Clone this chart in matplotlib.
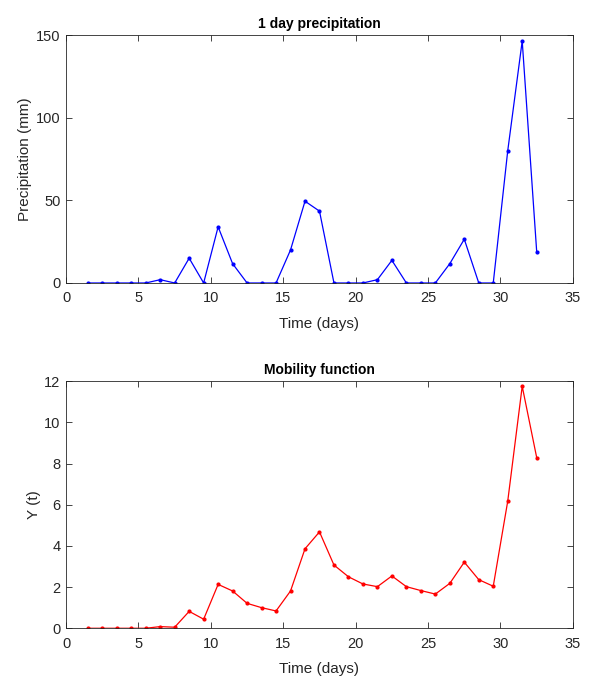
import matplotlib
matplotlib.use("Agg")
import matplotlib.pyplot as plt
import numpy as np

plt.rcParams['font.family'] = ['Liberation Sans', 'DejaVu Sans']

# time axis (days)
days = np.arange(1.5, 33, 1.0)

# 1 day precipitation (mm)
precip = [0, 0, 0, 0, 0, 2, 0, 15, 0, 34, 11.7, 0, 0, 0, 20, 49.5, 43.5,
          0, 0, 0, 2, 13.7, 0, 0, 0, 11.7, 26.5, 0, 0, 80, 146.5, 19]

# mobility function Y(t)
mobility = [0, 0, 0, 0, 0, 0.08, 0.05, 0.82, 0.44, 2.13, 1.81, 1.21, 1.0, 0.84,
            1.81, 3.86, 4.68, 3.07, 2.5, 2.15, 2.02, 2.54, 2.02, 1.83, 1.66,
            2.18, 3.21, 2.36, 2.04, 6.17, 11.75, 8.29]

fig = plt.figure(figsize=(5.9, 6.77), dpi=100)
ax1 = fig.add_axes([0.112, 0.582, 0.859, 0.366])
ax2 = fig.add_axes([0.112, 0.072, 0.859, 0.365])

axc = '0.15'
for ax in (ax1, ax2):
    ax.tick_params(direction='in', top=True, right=True, length=4, width=0.6,
                   colors=axc, labelsize=10.5, labelcolor=axc)
    ax.tick_params(axis='x', pad=6)
    ax.tick_params(axis='y', pad=4)
    for s in ax.spines.values():
        s.set_linewidth(0.6)
        s.set_color(axc)
    ax.set_xlim(0, 35)
    ax.set_xticks(range(0, 36, 5))
    ax.set_xlabel('Time (days)', fontsize=11, color=axc, labelpad=8.5)

ax1.plot(days, precip, color='blue', marker='.', markersize=4, linewidth=0.9)
ax1.set_ylim(0, 150)
ax1.set_yticks([0, 50, 100, 150])
ax1.set_ylabel('Precipitation (mm)', fontsize=11, color=axc, labelpad=2.5)
ax1.set_title('1 day precipitation', fontsize=10, fontweight='bold', pad=5)

ax2.plot(days, mobility, color='red', marker='.', markersize=4, linewidth=0.9)
ax2.set_ylim(0, 12)
ax2.set_yticks(range(0, 13, 2))
ax2.set_ylabel('Y (t)', fontsize=11, color=axc, labelpad=2.5)
ax2.set_title('Mobility function', fontsize=10, fontweight='bold', pad=5)

fig.savefig('out.png', dpi=100)
